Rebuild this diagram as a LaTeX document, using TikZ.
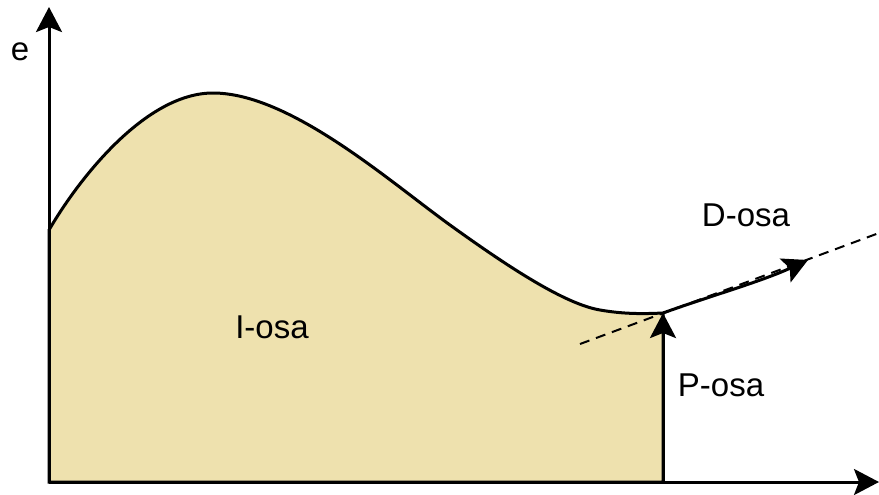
\documentclass[tikz,border=0pt]{standalone}
\usepackage{fontspec}
\setmainfont{Liberation Sans}
\usetikzlibrary{arrows.meta}
\definecolor{areafill}{RGB}{238,225,174}
\tikzset{
  axisline/.style={line width=1.5pt,-{Stealth[length=12.5pt,width=13pt,inset=2.5pt]}},
  curveline/.style={line width=1.5pt},
  tangentline/.style={line width=1pt,dash pattern=on 5pt off 3.5pt},
  lbl/.style={anchor=base,inner sep=0pt,font=\fontsize{16.5}{20}\selectfont}
}
\begin{document}
\begin{tikzpicture}[x=0.5pt,y=-0.5pt]
\useasboundingbox (0,0) rectangle (879,494);
\coordinate (O) at (49,482);
\coordinate (ytip) at (49,7);
\coordinate (xtip) at (879,482);
\coordinate (S) at (49,230);
\coordinate (peak) at (213,93);
\coordinate (m1) at (450,225);
\coordinate (m2) at (600,310);
\coordinate (P) at (663,313);
\coordinate (Pbase) at (663,482);
\coordinate (Dtip) at (808,260);
\coordinate (t1) at (580,344);
\coordinate (t2) at (879,233);
% filled area
\filldraw[fill=areafill,curveline] (S)
  .. controls (78,180) and (145,93) .. (peak)
  .. controls (290,93) and (390,181.8) .. (m1)
  .. controls (510,268.2) and (565,304) .. (m2)
  .. controls (623,314) and (642,314) .. (P)
  -- (Pbase) -- (O) -- cycle;
% tangent
\draw[tangentline] (t1) -- (t2);
% D arrow
\draw[axisline] (P) .. controls (710,296) and (760,282) .. (Dtip);
% P arrow
\draw[axisline] (Pbase) -- (P);
% axes
\draw[axisline] (O) -- (ytip);
\draw[axisline] (O) -- (xtip);
% labels
\node[lbl] (elbl) at (20,60) {e};
\node[lbl] (ilbl) at (272,338) {I-osa};
\node[lbl] (plbl) at (721,396) {P-osa};
\node[lbl] (dlbl) at (746,226) {D-osa};
\end{tikzpicture}
\end{document}
